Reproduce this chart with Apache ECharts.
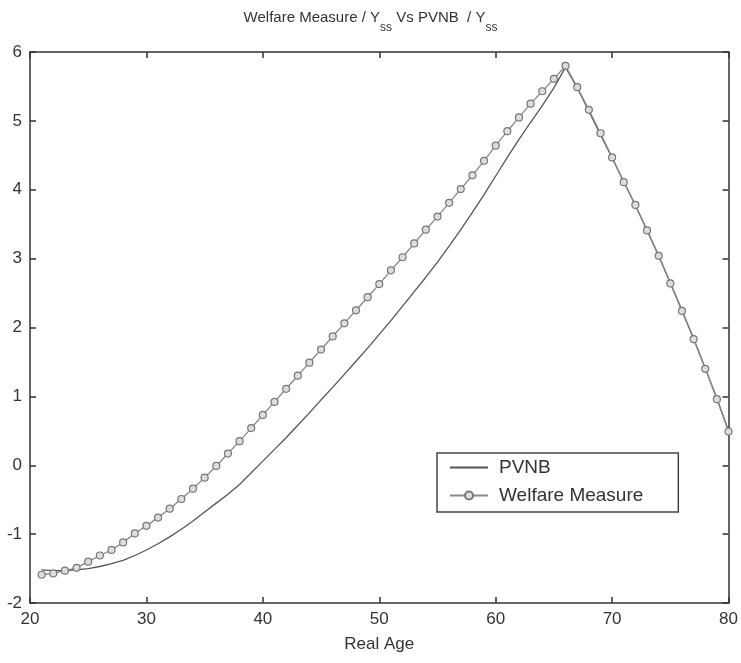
<!DOCTYPE html>
<html>
<head>
<meta charset="utf-8">
<script src="https://cdn.jsdelivr.net/npm/echarts@6/dist/echarts.min.js"></script>
<style>html,body{margin:0;padding:0;background:#fff}#c{width:741px;height:663px}</style>
</head>
<body>
<div id="c"></div>
<script>
const ages = [21,22,23,24,25,26,27,28,29,30,31,32,33,34,35,36,37,38,39,40,41,42,43,44,45,46,47,48,49,50,51,52,53,54,55,56,57,58,59,60,61,62,63,64,65,66,67,68,69,70,71,72,73,74,75,76,77,78,79,80];
const pvnb = [-1.52,-1.53,-1.53,-1.52,-1.50,-1.47,-1.43,-1.38,-1.31,-1.23,-1.14,-1.04,-0.93,-0.81,-0.68,-0.55,-0.42,-0.28,-0.11,0.06,0.23,0.40,0.58,0.76,0.95,1.13,1.32,1.51,1.70,1.90,2.10,2.31,2.52,2.73,2.95,3.18,3.42,3.67,3.93,4.20,4.47,4.73,4.98,5.22,5.48,5.78,5.48,5.14,4.80,4.46,4.12,3.77,3.41,3.04,2.65,2.25,1.84,1.41,0.97,0.50];
const welfare = [-1.59,-1.57,-1.53,-1.49,-1.40,-1.31,-1.23,-1.12,-0.99,-0.88,-0.76,-0.63,-0.49,-0.34,-0.18,-0.01,0.17,0.35,0.54,0.73,0.92,1.11,1.30,1.49,1.68,1.87,2.06,2.25,2.44,2.63,2.83,3.02,3.22,3.42,3.61,3.81,4.01,4.21,4.42,4.64,4.85,5.05,5.25,5.43,5.61,5.80,5.49,5.16,4.82,4.47,4.11,3.78,3.41,3.04,2.64,2.24,1.83,1.40,0.96,0.49];
const xTicks = [20,30,40,50,60,70,80];
const yTicks = [-2,-1,0,1,2,3,4,5,6];

const chart = echarts.init(document.getElementById('c'), null, {renderer:'canvas'});
const font = 'Liberation Sans, Arial, sans-serif';
const axisCommon = {
  axisLine:{show:true, onZero:false, lineStyle:{color:'#333', width:1.5}},
  axisTick:{show:true, inside:true, length:6, lineStyle:{color:'#333', width:1.5}},
  splitLine:{show:false}
};
chart.setOption({
  animation:false,
  backgroundColor:'#fff',
  title:{
    text:'{n|Welfare Measure / Y}{s|ss}{n| Vs PVNB  / Y}{s|ss}',
    left:'center', top:5,
    textStyle:{fontWeight:'normal', rich:{
      n:{fontFamily:font, fontSize:15, fontWeight:'normal', color:'#333', lineHeight:22, verticalAlign:'top'},
      s:{fontFamily:font, fontSize:12, fontWeight:'normal', color:'#333', padding:[12,0,0,0], verticalAlign:'top', lineHeight:22}
    }}
  },
  grid:{left:30, right:10, top:52, bottom:60, containLabel:false},
  legend:{
    orient:'vertical', left:437, top:453,
    padding:[5,35,7,12],
    borderColor:'#444', borderWidth:1.5, backgroundColor:'#fff',
    itemWidth:38, itemHeight:10, itemGap:9,
    textStyle:{fontFamily:font, fontSize:19, color:'#333', padding:[0,0,0,6]},
    data:[{name:'PVNB', itemStyle:{opacity:0, borderWidth:0}},{name:'Welfare Measure'}]
  },
  xAxis:[
    Object.assign({type:'value', min:20, max:80, interval:10, position:'bottom', name:'Real Age', nameLocation:'middle', nameGap:33,
      nameTextStyle:{fontFamily:font, fontSize:17, color:'#333'},
      axisLabel:{fontFamily:font, fontSize:17, color:'#333', margin:8,
        formatter:v=> xTicks.includes(v)?String(v):''}}, axisCommon),
    Object.assign({type:'value', min:20, max:80, interval:10, position:'top', axisLabel:{show:false}}, axisCommon)
  ],
  yAxis:[
    Object.assign({type:'value', min:-2, max:6, interval:1, position:'left',
      axisLabel:{fontFamily:font, fontSize:17, color:'#333', margin:8,
        formatter:v=> yTicks.includes(v)?String(v):''}}, axisCommon),
    Object.assign({type:'value', min:-2, max:6, interval:1, position:'right', axisLabel:{show:false}}, axisCommon)
  ],
  series:[
    {name:'PVNB', type:'line', data:ages.map((a,i)=>[a,pvnb[i]]), showSymbol:false, symbol:'none',
     lineStyle:{color:'#555', width:1.3}, itemStyle:{color:'#555'}, z:2},
    {name:'Welfare Measure', type:'line', data:ages.map((a,i)=>[a,welfare[i]]), symbol:'circle', symbolSize:7,
     lineStyle:{color:'#888', width:1.3},
     itemStyle:{color:'#ddd', borderColor:'#777', borderWidth:1.2}, z:3}
  ]
});
</script>
</body>
</html>
